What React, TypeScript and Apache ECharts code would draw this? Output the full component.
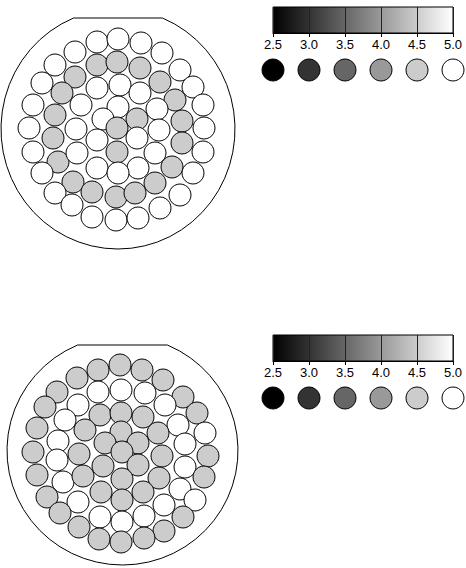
import { useEffect, useRef } from "react";
import * as echarts from "echarts";

/* cell values: 4.5 shows as light gray, 5.0 as white */
const G = 4.5;
const W = 5.0;

// [x, y, value] of each small circle, upper panel (page pixels)
const upperCells: [number, number, number][] = [
  [75, 52, W], [97, 42, W], [118, 39, W], [141, 43, W], [162, 53, W],
  [55, 65, W], [97, 65, G], [117, 62, G], [140, 68, G], [180, 70, W],
  [75, 77, G], [160, 82, G], [42, 83, W], [62, 93, G], [97, 88, W], [120, 85, W], [140, 93, W], [175, 100, G], [193, 87, W],
  [33, 105, W], [55, 115, G], [81, 105, W], [118, 107, W], [103, 119, W], [137, 119, G], [157, 109, W], [182, 121, G], [203, 105, W],
  [29, 128, W], [53, 138, G], [76, 129, W], [117, 128, G], [97, 140, W], [137, 138, W], [159, 130, W], [182, 143, G], [204, 128, W],
  [33, 152, W], [58, 162, G], [77, 153, W], [117, 152, G], [97, 168, W], [155, 153, W], [138, 168, W], [172, 167, G], [203, 152, W],
  [42, 173, W], [73, 182, G], [118, 173, W], [155, 183, G], [193, 173, W],
  [55, 193, W], [92, 192, G], [116, 197, G], [135, 193, G], [180, 195, W],
  [72, 205, W], [92, 217, W], [116, 220, W], [138, 218, W], [160, 208, W],
];

// lower panel
const lowerCells: [number, number, number][] = [
  [77, 378, G], [98, 370, G], [120, 365, G], [142, 370, G], [163, 380, G],
  [57, 392, G], [98, 392, W], [121, 390, W], [145, 393, W], [183, 397, G],
  [45, 407, G], [78, 405, W], [165, 405, W], [100, 415, G], [121, 413, G], [143, 417, G], [197, 413, G],
  [65, 420, W], [178, 425, W], [37, 428, G], [85, 430, G], [121, 432, G], [158, 433, G], [205, 433, W],
  [58, 441, W], [105, 443, G], [138, 443, G], [185, 444, W],
  [33, 452, G], [57, 460, W], [79, 454, G], [122, 452, G], [162, 456, G], [208, 456, G],
  [37, 475, G], [63, 482, W], [83, 476, G], [103, 466, G], [138, 465, G], [185, 467, W], [122, 479, G], [159, 478, G], [204, 477, G], [180, 489, W],
  [47, 497, G], [101, 492, G], [143, 492, G], [78, 502, W], [122, 500, G], [195, 500, W], [164, 505, W],
  [60, 513, G], [100, 517, W], [144, 516, W], [183, 517, G], [122, 522, W],
  [79, 527, G], [164, 531, G], [99, 539, G], [144, 538, G], [121, 542, G],
];

const legendValues = [2.5, 3.0, 3.5, 4.0, 4.5, 5.0];
const scaleMin = 2.5;
const scaleMax = 5.0;
const scaleStep = 0.5;

// outer frames: ellipse with the top cut flat
const frames = [
  { cx: 118, cy: 129, rx: 117, ry: 120, flat: 18 },
  { cx: 122.5, cy: 450.5, rx: 115.5, ry: 114.5, flat: 345 },
];
const barTops = [7, 335];

function framePath(f: { cx: number; cy: number; rx: number; ry: number; flat: number }) {
  const half = f.rx * Math.sqrt(1 - ((f.cy - f.flat) / f.ry) ** 2);
  const x1 = f.cx - half;
  const x2 = f.cx + half;
  return `M${x1} ${f.flat} L${x2} ${f.flat} A${f.rx} ${f.ry} 0 1 1 ${x1} ${f.flat} Z`;
}

frames.forEach((f, i) => {
  echarts.graphic.registerShape("frame" + i, echarts.graphic.extendPath(framePath(f), {}));
});

const FONT = "'Liberation Sans', Arial, sans-serif";

export default function App() {
  const ref = useRef<HTMLDivElement>(null);

  useEffect(() => {
    if (!ref.current) return;
    const chart = echarts.init(ref.current, null, { renderer: "svg" });

    const gradient = new echarts.graphic.LinearGradient(0, 0, 1, 0, [
      { offset: 0, color: "#000000" },
      { offset: 1, color: "#ffffff" },
    ]);

    const barGrid = (top: number) => ({
      left: 273, top, width: 180, height: 26,
      show: true, backgroundColor: gradient, borderColor: "#000", borderWidth: 1,
    });
    const legendGrid = (top: number) => ({ left: 273, top, width: 180, height: 22 });

    const barAxis = (gridIndex: number) => ({
      gridIndex, type: "value" as const, min: scaleMin, max: scaleMax, interval: scaleStep,
      position: "bottom" as const,
      axisLine: { show: true, lineStyle: { color: "#000000", width: 1 } },
      axisTick: { show: true, length: 4, lineStyle: { color: "#000000" } },
      axisLabel: {
        show: true, color: "#000000", fontSize: 13, margin: 5, fontFamily: FONT,
        formatter: (v: number) => v.toFixed(1),
      },
      splitLine: { show: true, lineStyle: { color: "#222222", width: 1 } },
    });
    const hiddenX = (gridIndex: number, min: number, max: number) => ({ gridIndex, type: "value" as const, min, max, show: false });
    const hiddenY = (gridIndex: number, min: number, max: number, inverse = false) => ({ gridIndex, type: "value" as const, min, max, inverse, show: false });

    const cellStyle = { borderColor: "#000", borderWidth: 1, opacity: 1 };

    chart.setOption({
      animation: false,
      backgroundColor: "#fff",
      textStyle: { fontFamily: FONT, color: "#000" },
      grid: [
        { left: 0, top: 0, width: 466, height: 568 },
        barGrid(barTops[0]),
        legendGrid(barTops[0] + 52),
        barGrid(barTops[1]),
        legendGrid(barTops[1] + 52),
      ],
      xAxis: [
        hiddenX(0, 0, 466),
        barAxis(1),
        hiddenX(2, scaleMin, scaleMax),
        barAxis(3),
        hiddenX(4, scaleMin, scaleMax),
      ],
      yAxis: [
        hiddenY(0, 0, 568, true),
        hiddenY(1, 0, 1),
        hiddenY(2, 0, 1),
        hiddenY(3, 0, 1),
        hiddenY(4, 0, 1),
      ],
      visualMap: {
        show: false, type: "continuous", min: scaleMin, max: scaleMax, dimension: 2,
        seriesIndex: [0, 1, 2, 3],
        inRange: { color: ["#000000", "#ffffff"] },
      },
      series: [
        { type: "scatter", xAxisIndex: 0, yAxisIndex: 0, symbolSize: 22, itemStyle: cellStyle, data: upperCells, silent: true },
        { type: "scatter", xAxisIndex: 0, yAxisIndex: 0, symbolSize: 22, itemStyle: cellStyle, data: lowerCells, silent: true },
        { type: "scatter", xAxisIndex: 2, yAxisIndex: 2, symbolSize: 22, clip: false, itemStyle: cellStyle, data: legendValues.map((v) => [v, 0.5, v]), silent: true },
        { type: "scatter", xAxisIndex: 4, yAxisIndex: 4, symbolSize: 22, clip: false, itemStyle: cellStyle, data: legendValues.map((v) => [v, 0.5, v]), silent: true },
      ],
      graphic: frames.map((_, i) => ({
        type: "frame" + i, x: 0, y: 0, silent: true, z: 1,
        style: { fill: "none", stroke: "#000", lineWidth: 1 },
      })),
    });

    return () => chart.dispose();
  }, []);

  return (
    <div
      ref={ref}
      style={{ position: "absolute", left: 0, top: 0, width: 466, height: 568, background: "#fff" }}
    />
  );
}
